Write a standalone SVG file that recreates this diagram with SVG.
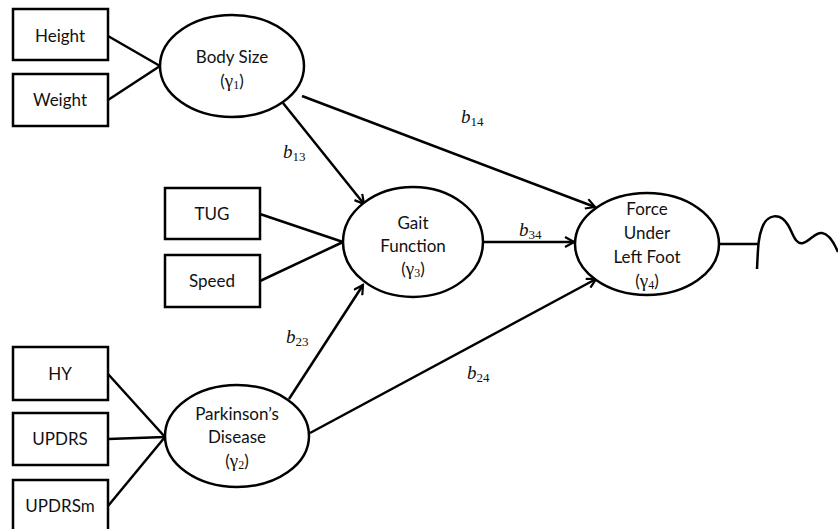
<svg xmlns="http://www.w3.org/2000/svg" width="838" height="529" viewBox="0 0 838 529">
<style>
.box{fill:#fff;stroke:#000;stroke-width:2.5}
.ell{fill:#fff;stroke:#000;stroke-width:2.5}
.ln{stroke:#000;stroke-width:2.5;fill:none}
.t{font-family:Lato,"Open Sans",sans-serif;font-size:17px;text-anchor:middle;fill:#111}
.g{font-family:"Liberation Serif",serif;font-size:19px}
.s{font-family:"Liberation Serif",serif;font-size:12px}
.b{font-family:"Liberation Serif",serif;font-size:19px;font-style:italic;fill:#111}
.bs{font-style:normal;font-size:13px}
</style>
<defs>
<marker id="ah" markerWidth="12" markerHeight="12" refX="10" refY="6" orient="auto" markerUnits="userSpaceOnUse">
<path d="M1,1 L10,6 L1,11" fill="none" stroke="#000" stroke-width="2.2"/>
</marker>
</defs>
<g id="connectors">
<line class="ln" x1="108" y1="36" x2="160" y2="66"/>
<line class="ln" x1="108" y1="100" x2="160" y2="66"/>
<line class="ln" x1="260" y1="214" x2="343" y2="242"/>
<line class="ln" x1="260" y1="281" x2="343" y2="242"/>
<line class="ln" x1="108" y1="374" x2="165" y2="437"/>
<line class="ln" x1="108" y1="439" x2="165" y2="437"/>
<line class="ln" x1="108" y1="506" x2="165" y2="437"/>
<line class="ln" x1="302" y1="96" x2="595" y2="207" marker-end="url(#ah)"/>
<line class="ln" x1="283" y1="103" x2="364" y2="204" marker-end="url(#ah)"/>
<line class="ln" x1="483" y1="242" x2="574" y2="242" marker-end="url(#ah)"/>
<line class="ln" x1="289" y1="399" x2="363" y2="285" marker-end="url(#ah)"/>
<line class="ln" x1="310" y1="433" x2="596" y2="279" marker-end="url(#ah)"/>
<line class="ln" x1="719" y1="244" x2="758" y2="244"/>
<path class="ln" d="M757,269 C758,250 758,238 762,228 C767,214 780,212 788,225 C793,233 795,245 803,243 C810,241 815,232 822,233 C830,234 835,245 838,252"/>
<text class="b" x="461" y="123">b<tspan class="bs" dy="3">14</tspan></text>
<text class="b" x="283" y="158">b<tspan class="bs" dy="3">13</tspan></text>
<text class="b" x="519" y="236">b<tspan class="bs" dy="3">34</tspan></text>
<text class="b" x="286" y="343">b<tspan class="bs" dy="3">23</tspan></text>
<text class="b" x="467" y="379">b<tspan class="bs" dy="3">24</tspan></text>
</g>
<g id="height"><rect class="box" x="13" y="9" width="95" height="51"/><text class="t" x="60" y="42">Height</text></g>
<g id="weight"><rect class="box" x="13" y="74" width="95" height="52"/><text class="t" x="60" y="106">Weight</text></g>
<g id="tug"><rect class="box" x="165" y="188" width="95" height="51"/><text class="t" x="212" y="220">TUG</text></g>
<g id="speed"><rect class="box" x="165" y="255" width="95" height="52"/><text class="t" x="212" y="287">Speed</text></g>
<g id="hy"><rect class="box" x="13" y="347" width="95" height="53"/><text class="t" x="60" y="380">HY</text></g>
<g id="updrs"><rect class="box" x="13" y="413" width="95" height="52"/><text class="t" x="60" y="445">UPDRS</text></g>
<g id="updrsm"><rect class="box" x="13" y="480" width="95" height="55"/><text class="t" x="60" y="512">UPDRSm</text></g>
<g id="bodysize"><ellipse class="ell" cx="232" cy="66" rx="72" ry="51"/><text class="t" x="232" y="63">Body Size</text><text class="t" x="232" y="87">(<tspan class="g">γ</tspan><tspan class="s" dy="2">1</tspan><tspan dy="-2">)</tspan></text></g>
<g id="gait"><ellipse class="ell" cx="413" cy="242" rx="70" ry="55"/><text class="t" x="413" y="229">Gait</text><text class="t" x="413" y="252">Function</text><text class="t" x="413" y="275">(<tspan class="g">γ</tspan><tspan class="s" dy="2">3</tspan><tspan dy="-2">)</tspan></text></g>
<g id="parkinsons"><ellipse class="ell" cx="237" cy="436" rx="72" ry="51"/><text class="t" x="237" y="420">Parkinson’s</text><text class="t" x="237" y="443">Disease</text><text class="t" x="237" y="467">(<tspan class="g">γ</tspan><tspan class="s" dy="2">2</tspan><tspan dy="-2">)</tspan></text></g>
<g id="force"><ellipse class="ell" cx="647" cy="244" rx="72" ry="51"/><text class="t" x="647" y="215">Force</text><text class="t" x="647" y="239">Under</text><text class="t" x="647" y="263">Left Foot</text><text class="t" x="647" y="287">(<tspan class="g">γ</tspan><tspan class="s" dy="2">4</tspan><tspan dy="-2">)</tspan></text></g>
</svg>
